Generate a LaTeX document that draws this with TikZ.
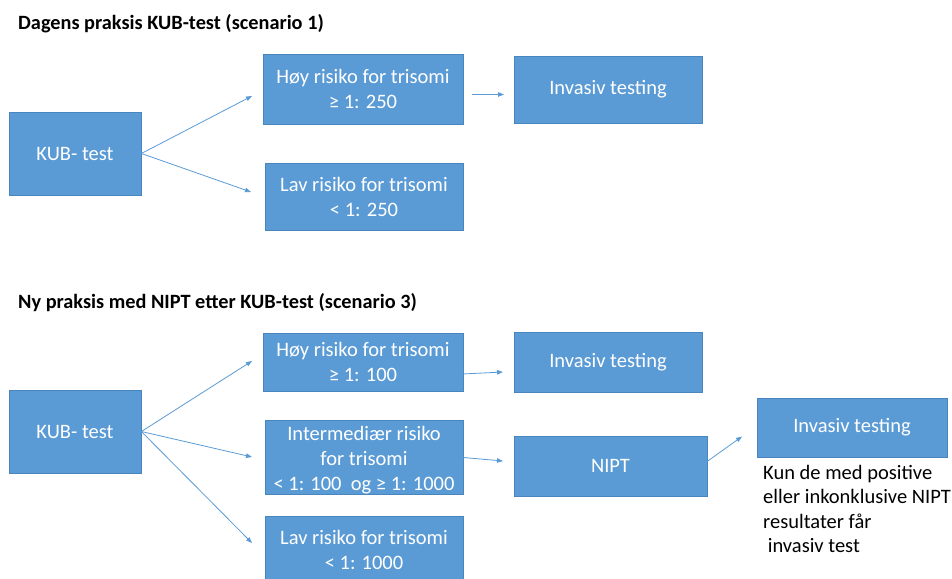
\documentclass[tikz,border=0pt]{standalone}
\usepackage{fontspec}
\setmainfont{Carlito}
\usetikzlibrary{arrows.meta}
\definecolor{boxblue}{HTML}{5B9BD5}
\definecolor{boxline}{HTML}{4A86BE}
\begin{document}
\begin{tikzpicture}[x=1pt,y=-1pt,
  bx/.style={draw=boxline, line width=0.8pt, fill=boxblue, text=white, inner sep=0pt,
    align=center, font=\fontsize{20.5}{25}\selectfont},
  title/.style={anchor=base west, inner sep=0pt, font=\fontsize{20.3}{24}\selectfont\bfseries},
  arr/.style={draw=boxblue, line width=0.8pt, -{Triangle[length=6pt,width=4.5pt]}},
  note/.style={anchor=north west, inner sep=0pt, align=left, font=\fontsize{20.5}{24.5}\selectfont}]
\useasboundingbox[fill=white] (0,0) rectangle (952,578);
\begin{scope}
\clip (0,0) rectangle (952,578);
% scenario 1
\node[title] (t1) at (18,30) {Dagens praksis KUB-test (scenario 1)};
\node[bx, minimum width=132pt, minimum height=83pt] (kub1) at (75,153.5) {KUB- test};
\node[bx, minimum width=200pt, minimum height=70pt] (hoy1) at (363,89) {Høy risiko for trisomi\\≥ 1: 250};
\node[bx, minimum width=198pt, minimum height=67pt] (lav1) at (364,196.5) {Lav risiko for trisomi\\< 1: 250};
\node[bx, minimum width=188pt, minimum height=67pt] (inv1) at (608,89.5) {Invasiv testing};
\coordinate (e1a) at (252,96);
\coordinate (e1b) at (251,192);
\coordinate (s1c) at (472,94.5);
\coordinate (e1c) at (504,94.5);
\draw[arr] (kub1.east) -- (e1a);
\draw[arr] (kub1.east) -- (e1b);
\draw[arr] (s1c) -- (e1c);
% scenario 3
\node[title] (t2) at (18,308) {Ny praksis med NIPT etter KUB-test (scenario 3)};
\node[bx, minimum width=132pt, minimum height=83pt] (kub2) at (75,431.5) {KUB- test};
\node[bx, minimum width=200pt, minimum height=58pt] (hoy2) at (363,362) {Høy risiko for trisomi\\≥ 1: 100};
\node[bx, minimum width=198pt, minimum height=74pt] (mid2) at (364,457.5) {};
\node[align=center, inner sep=0pt, text=white, font=\fontsize{20.5}{25}\selectfont] (mid2t) at (364,460) {Intermediær risiko\\for trisomi\\< 1: 100\ \ og ≥ 1: 1000};
\node[bx, minimum width=198pt, minimum height=68pt, text depth=0pt] (lav2) at (364,550) {Lav risiko for trisomi\\< 1: 1000};
\node[bx, minimum width=188pt, minimum height=60pt] (inv2) at (608,362) {Invasiv testing};
\node[bx, minimum width=193pt, minimum height=60pt] (nipt) at (610.5,466) {NIPT};
\node[bx, minimum width=190pt, minimum height=59pt] (inv3) at (852,427.5) {Invasiv testing};
\node[note] (txt) at (763,465) {Kun de med positive\\eller inkonklusive NIPT\\resultater får\\\ invasiv test};
\coordinate (e2a) at (252,361);
\coordinate (e2b) at (252,457);
\coordinate (e2c) at (252,543);
\coordinate (e2d) at (503,372);
\coordinate (e2e) at (503,461);
\coordinate (e2f) at (742,436.5);
\draw[arr] (kub2.east) -- (e2a);
\draw[arr] (kub2.east) -- (e2b);
\draw[arr] (kub2.east) -- (e2c);
\draw[arr] (hoy2.east) ++(-1,12) -- (e2d);
\draw[arr] (mid2.east) -- (e2e);
\draw[arr] (nipt.east) ++(-1,-4) -- (e2f);
\end{scope}
\end{tikzpicture}
\end{document}
